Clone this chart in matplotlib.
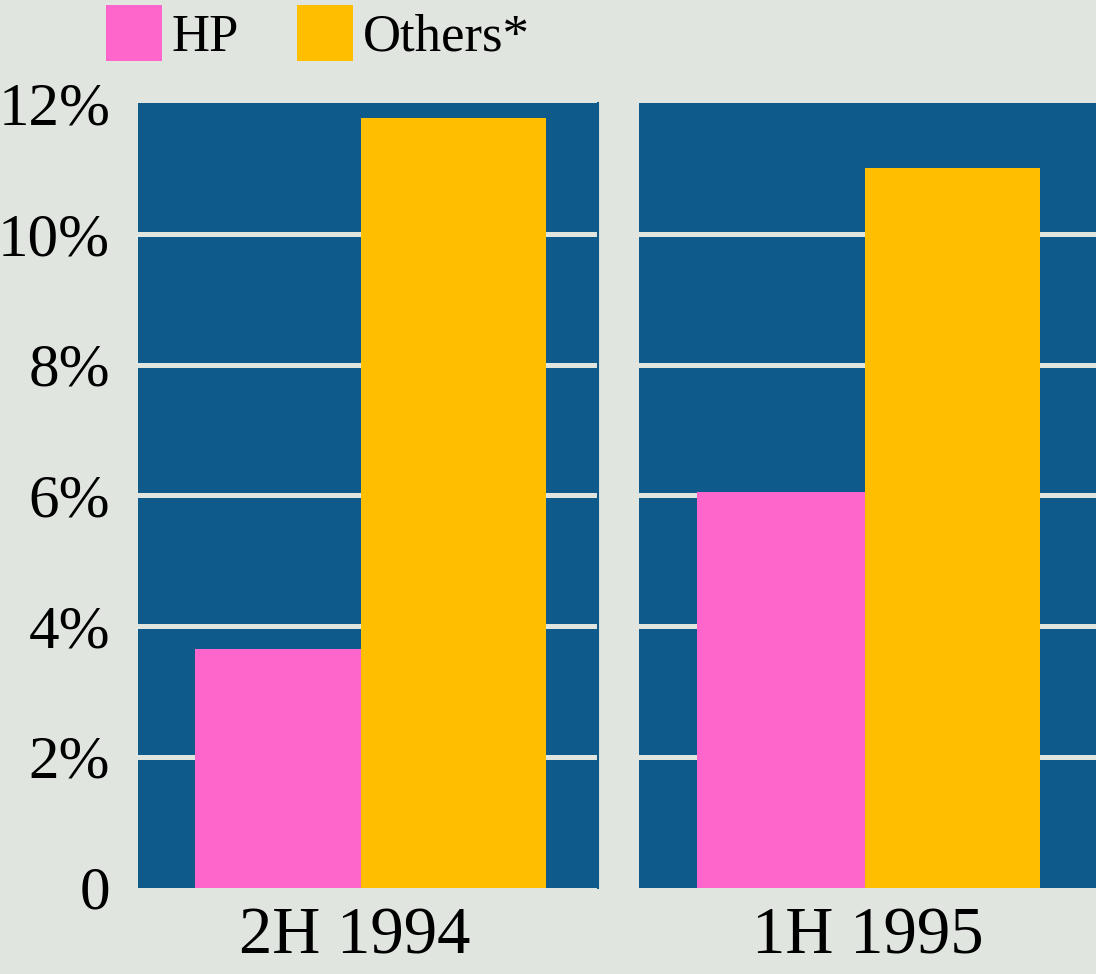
import matplotlib
matplotlib.use("Agg")
import matplotlib.pyplot as plt
from matplotlib.patches import Patch

# ---- data ----
periods = ["2H 1994", "1H 1995"]
series_names = ["HP", "Others*"]
hp_values = [3.65, 6.05]
others_values = [11.77, 11.0]
y_ticks = [0, 2, 4, 6, 8, 10, 12]
y_tick_labels = ["0", "2%", "4%", "6%", "8%", "10%", "12%"]

# ---- style ----
BG = "#E0E5E0"
PANEL = "#0E5A8A"
PINK = "#FF66CC"
ORANGE = "#FFBF00"
FONT = "Liberation Serif"

plt.rcParams["font.family"] = [FONT, "DejaVu Serif"]

fig = plt.figure(figsize=(10.96, 9.74), dpi=100, facecolor=BG)

ax_bottom = 86.5 / 974
ax_height = (887.5 - 103) / 974
axes_rects = [
    [138 / 1096, ax_bottom, 460 / 1096, ax_height],
    [639 / 1096, ax_bottom, 457 / 1096, ax_height],
]
hp_left = [0.124, 0.127]
hp_width = [0.361, 0.368]
oth_width = [0.402, 0.383]

for i, rect in enumerate(axes_rects):
    ax = fig.add_axes(rect)
    ax.set_facecolor(PANEL)
    ax.set_xlim(0, 1)
    ax.set_ylim(0, 12)
    for g in y_ticks[1:-1]:
        ax.axhline(g, color=BG, lw=3.6, zorder=1)
    ax.bar(hp_left[i], hp_values[i], width=hp_width[i], align="edge",
           color=PINK, zorder=3, linewidth=0)
    ax.bar(hp_left[i] + hp_width[i], others_values[i], width=oth_width[i],
           align="edge", color=ORANGE, zorder=3, linewidth=0)
    for s in ["top", "left", "bottom"]:
        ax.spines[s].set_visible(False)
    if i == 0:
        ax.spines["right"].set_color(PANEL)
        ax.spines["right"].set_linewidth(1.5)
    else:
        ax.spines["right"].set_visible(False)
    ax.set_xticks([0.5 if i == 1 else 0.47])
    ax.set_xticklabels([periods[i]], fontsize=48)
    ax.tick_params(axis="x", length=0, pad=14)
    if i == 0:
        ax.set_yticks(y_ticks)
        ax.set_yticklabels(y_tick_labels, fontsize=44)
        ax.tick_params(axis="y", length=0, pad=20)
    else:
        ax.set_yticks([])

handles = [Patch(facecolor=PINK, edgecolor="none"),
           Patch(facecolor=ORANGE, edgecolor="none")]
fig.legend(handles, series_names, loc="upper center",
           bbox_to_anchor=(318 / 1096, 1.0), ncol=2, frameon=False,
           fontsize=38, handlelength=1.06, handleheight=1.25,
           handletextpad=0.18, columnspacing=1.1, borderaxespad=0.0,
           borderpad=0.1)

fig.savefig("out.png", dpi=100, facecolor=BG)
